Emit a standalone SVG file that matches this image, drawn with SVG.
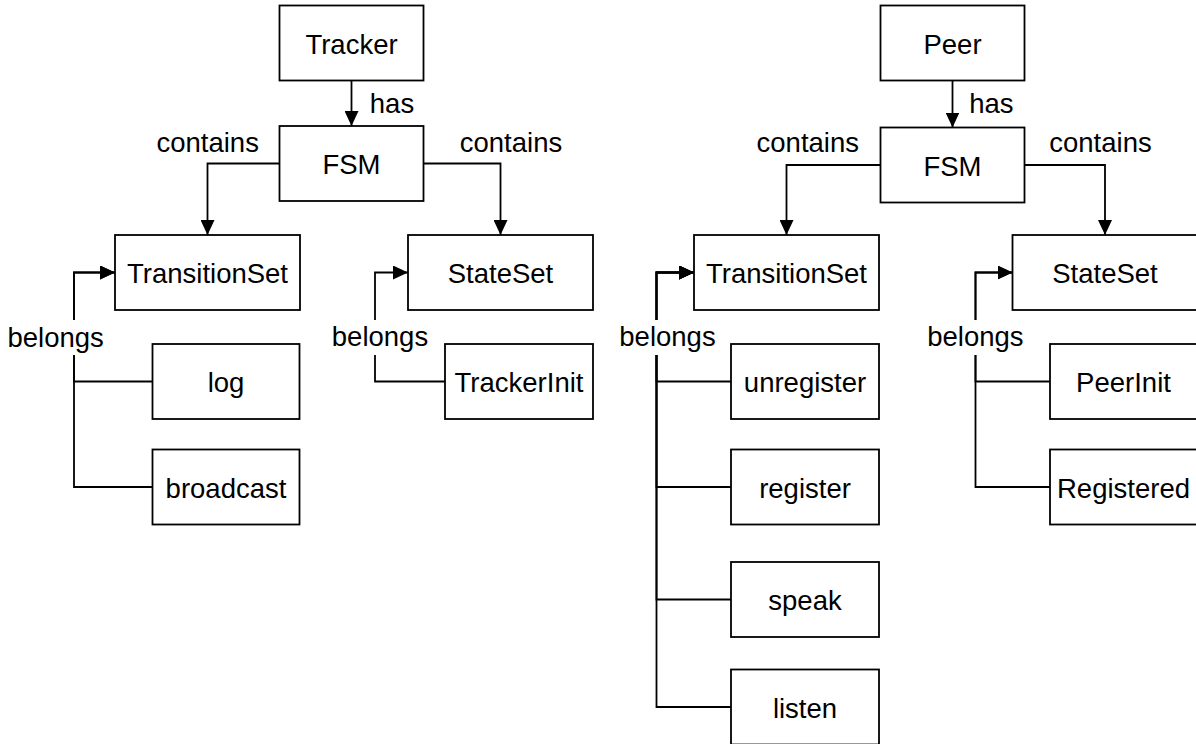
<svg xmlns="http://www.w3.org/2000/svg" width="1196" height="744" viewBox="0 0 1196 744">
<style>
.box{fill:#fff;stroke:#000;stroke-width:1.8}
.t{font-family:"Liberation Sans",Arial,Helvetica,sans-serif;font-size:27.5px;fill:#000;text-anchor:middle}
.e{fill:none;stroke:#000;stroke-width:1.8}
.lb{fill:#fff}
</style>
<defs>
<marker id="arr" markerUnits="userSpaceOnUse" viewBox="0 0 15 14" refX="15" refY="7" markerWidth="15" markerHeight="14" orient="auto">
<path d="M0,0 L15,7 L0,14 Z" fill="#000"/>
</marker>
</defs>
<rect width="1196" height="744" fill="#fff"/>
<g id="connectors">
<path class="e" d="M351.5,80.5 V126" marker-end="url(#arr)"/>
<path class="e" d="M279.5,163.5 H207.5 V235" marker-end="url(#arr)"/>
<path class="e" d="M423.5,163.5 H500.5 V235" marker-end="url(#arr)"/>
<path class="e" d="M152.5,381.5 H74 V272.5 H115" marker-end="url(#arr)"/>
<path class="e" d="M152.5,487 H74 V272.5 H115" marker-end="url(#arr)"/>
<path class="e" d="M445,381.5 H375 V272.5 H408" marker-end="url(#arr)"/>
<path class="e" d="M952.5,80.5 V127.5" marker-end="url(#arr)"/>
<path class="e" d="M880.5,165 H786.5 V235" marker-end="url(#arr)"/>
<path class="e" d="M1024.5,165 H1105 V235" marker-end="url(#arr)"/>
<path class="e" d="M731,381.5 H656.5 V272.5 H694" marker-end="url(#arr)"/>
<path class="e" d="M731,487 H656.5 V272.5 H694" marker-end="url(#arr)"/>
<path class="e" d="M731,599.5 H656.5 V272.5 H694" marker-end="url(#arr)"/>
<path class="e" d="M731,707 H656.5 V272.5 H694" marker-end="url(#arr)"/>
<path class="e" d="M1050,381.5 H975.5 V272.5 H1012.5" marker-end="url(#arr)"/>
<path class="e" d="M1050,487 H975.5 V272.5 H1012.5" marker-end="url(#arr)"/>
<g id="edge-labels">
<text class="t" x="392" y="113">has</text>
<text class="t" x="207.7" y="151.7">contains</text>
<text class="t" x="511" y="151.7">contains</text>
<rect class="lb" x="8" y="320" width="96" height="35"/>
<text class="t" x="55.7" y="346.5">belongs</text>
<rect class="lb" x="332" y="320" width="96" height="35"/>
<text class="t" x="380" y="346">belongs</text>
<text class="t" x="991.3" y="113">has</text>
<text class="t" x="807.8" y="151.7">contains</text>
<text class="t" x="1100.5" y="151.7">contains</text>
<rect class="lb" x="619" y="320" width="97" height="35"/>
<text class="t" x="667.5" y="346">belongs</text>
<rect class="lb" x="927" y="320" width="97" height="35"/>
<text class="t" x="975.4" y="346">belongs</text>
</g>
</g>
<g id="tracker"><rect class="box" x="279.5" y="5.5" width="144" height="75"/><text class="t" x="351.5" y="53.5">Tracker</text></g>
<g id="fsm-tracker"><rect class="box" x="279.5" y="126" width="144" height="75"/><text class="t" x="351.5" y="174">FSM</text></g>
<g id="transitionset-tracker"><rect class="box" x="115" y="235" width="185" height="75"/><text class="t" x="207.5" y="283">TransitionSet</text></g>
<g id="stateset-tracker"><rect class="box" x="408" y="235" width="185" height="75"/><text class="t" x="500.5" y="283">StateSet</text></g>
<g id="log"><rect class="box" x="152.5" y="344" width="147" height="75"/><text class="t" x="226" y="392">log</text></g>
<g id="broadcast"><rect class="box" x="152.5" y="449.5" width="147" height="75"/><text class="t" x="226" y="497.5">broadcast</text></g>
<g id="trackerinit"><rect class="box" x="445" y="344" width="148" height="75"/><text class="t" x="519" y="392">TrackerInit</text></g>
<g id="peer"><rect class="box" x="880.5" y="5.5" width="144" height="75"/><text class="t" x="952.5" y="53.5">Peer</text></g>
<g id="fsm-peer"><rect class="box" x="880.5" y="127.5" width="144" height="75"/><text class="t" x="952.5" y="175.5">FSM</text></g>
<g id="transitionset-peer"><rect class="box" x="694" y="235" width="185" height="75"/><text class="t" x="786.5" y="283">TransitionSet</text></g>
<g id="stateset-peer"><rect class="box" x="1012.5" y="235" width="185" height="75"/><text class="t" x="1105" y="283">StateSet</text></g>
<g id="unregister"><rect class="box" x="731" y="344" width="148" height="75"/><text class="t" x="805" y="392">unregister</text></g>
<g id="register"><rect class="box" x="731" y="449.5" width="148" height="75"/><text class="t" x="805" y="497.5">register</text></g>
<g id="speak"><rect class="box" x="731" y="562" width="148" height="75"/><text class="t" x="805" y="610">speak</text></g>
<g id="listen"><rect class="box" x="731" y="669.5" width="148" height="75"/><text class="t" x="805" y="717.5">listen</text></g>
<g id="peerinit"><rect class="box" x="1050" y="344" width="147" height="75"/><text class="t" x="1123.5" y="392">PeerInit</text></g>
<g id="registered"><rect class="box" x="1050" y="449.5" width="147" height="75"/><text class="t" x="1123.5" y="497.5">Registered</text></g>
</svg>
